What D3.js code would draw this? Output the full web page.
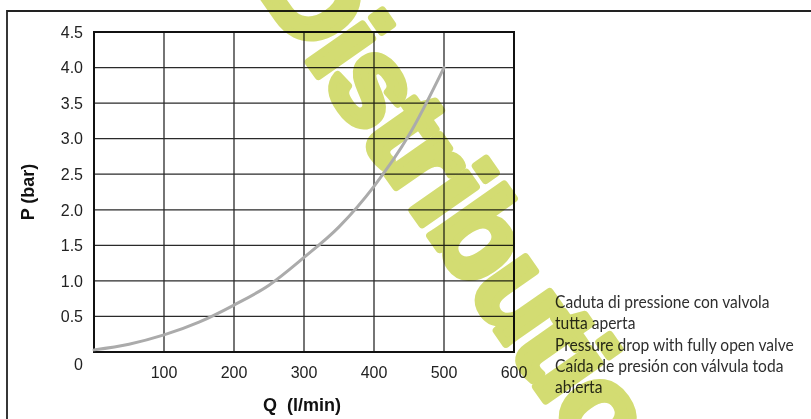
<!DOCTYPE html>
<html>
<head>
<meta charset="utf-8">
<script src="https://cdn.jsdelivr.net/npm/d3@7"></script>
<style>
  body { margin: 0; background: #fff; }
  svg { display: block; }
</style>
</head>
<body>
<svg id="chart"></svg>
<script>
// data
const flowQ = [0, 50, 100, 150, 200, 250, 300, 350, 400, 450, 500];
const pressureP = [0.03, 0.11, 0.24, 0.42, 0.66, 0.94, 1.33, 1.76, 2.33, 3.05, 4.0];
const xTicks = [100, 200, 300, 400, 500, 600];
const yTicks = [0.5, 1.0, 1.5, 2.0, 2.5, 3.0, 3.5, 4.0, 4.5];
const originLabel = "0";
const xTitle = "Q\u00a0 (l/min)";
const yTitle = "P (bar)";
const captionLines = [
  "Caduta di pressione con valvola",
  "tutta aperta",
  "Pressure drop with fully open valve",
  "Caída de presión con válvula toda",
  "abierta"
];
const watermark = "Distribution";

const width = 811, height = 419;
const svg = d3.select("#chart").attr("width", width).attr("height", height);

// outer frame (top + left edge)
svg.append("path")
  .attr("d", `M7,${height} V11 H${width}`)
  .attr("fill", "none")
  .attr("stroke", "#222")
  .attr("stroke-width", 1.8);

const x = d3.scaleLinear().domain([0, 600]).range([94, 514]);
const y = d3.scaleLinear().domain([0, 4.5]).range([352, 32]);

// grid
const grid = svg.append("g").attr("stroke", "#2a2a2a").attr("stroke-width", 1.3);
grid.selectAll("line.v")
  .data(xTicks.slice(0, -1))
  .join("line")
  .attr("x1", d => x(d)).attr("x2", d => x(d))
  .attr("y1", y(0)).attr("y2", y(4.5));
grid.selectAll("line.h")
  .data(yTicks.slice(0, -1))
  .join("line")
  .attr("x1", x(0)).attr("x2", x(600))
  .attr("y1", d => y(d)).attr("y2", d => y(d));

svg.append("rect")
  .attr("x", x(0)).attr("y", y(4.5))
  .attr("width", x(600) - x(0)).attr("height", y(0) - y(4.5))
  .attr("fill", "none")
  .attr("stroke", "#111")
  .attr("stroke-width", 2);

// tick labels
const tickFont = "'Liberation Sans', Arial, sans-serif";
svg.append("g")
  .selectAll("text")
  .data(yTicks)
  .join("text")
  .attr("x", 83)
  .attr("y", d => y(d))
  .attr("dy", "0.36em")
  .attr("text-anchor", "end")
  .attr("font-family", tickFont)
  .attr("font-size", 16)
  .attr("fill", "#222")
  .text(d => d.toFixed(1));

svg.append("text")
  .attr("x", 83).attr("y", y(0) + 18)
  .attr("text-anchor", "end")
  .attr("font-family", tickFont)
  .attr("font-size", 16)
  .attr("fill", "#222")
  .text(originLabel);

svg.append("g")
  .selectAll("text")
  .data(xTicks)
  .join("text")
  .attr("x", d => x(d))
  .attr("y", y(0) + 26)
  .attr("text-anchor", "middle")
  .attr("font-family", tickFont)
  .attr("font-size", 16)
  .attr("fill", "#222")
  .text(d => d);

// axis titles
svg.append("text")
  .attr("x", 302).attr("y", 411)
  .attr("text-anchor", "middle")
  .attr("font-family", tickFont)
  .attr("font-weight", "bold")
  .attr("font-size", 18)
  .attr("fill", "#111")
  .text(xTitle);

svg.append("text")
  .attr("transform", "translate(34,192) rotate(-90)")
  .attr("text-anchor", "middle")
  .attr("font-family", tickFont)
  .attr("font-weight", "bold")
  .attr("font-size", 18)
  .attr("fill", "#111")
  .text(yTitle);

// caption, squeezed to the condensed look of the original
const caption = svg.append("g").attr("transform", "translate(555,308)");
const capText = caption.selectAll("text")
  .data(captionLines)
  .join("text")
  .attr("x", 0)
  .attr("y", (d, i) => i * 21.3)
  .attr("font-family", "Lato, 'Open Sans', sans-serif")
  .attr("font-size", 18)
  .attr("fill", "#2e2e2e")
  .text(d => d);
const widest = d3.max(capText.nodes(), n => n.getComputedTextLength());
caption.attr("transform", `translate(555,308) scale(${239 / widest},1)`);

// watermark (multiplied over grid and caption)
svg.append("text")
  .attr("transform", "translate(254,-16) rotate(55)")
  .attr("font-family", "'Liberation Sans', Arial, sans-serif")
  .attr("font-weight", "bold")
  .attr("font-size", 124)
  .attr("letter-spacing", -3)
  .attr("fill", "#d3dc72")
  .attr("stroke", "#d3dc72")
  .attr("stroke-width", 8)
  .attr("stroke-linejoin", "round")
  .style("mix-blend-mode", "multiply")
  .text(watermark);

// pressure drop curve
const line = d3.line()
  .x((d, i) => x(flowQ[i]))
  .y(d => y(d))
  .curve(d3.curveMonotoneX);

svg.append("path")
  .datum(pressureP)
  .attr("d", line)
  .attr("fill", "none")
  .attr("stroke", "#ababab")
  .attr("stroke-width", 3)
  .attr("stroke-linecap", "round");
</script>
</body>
</html>
